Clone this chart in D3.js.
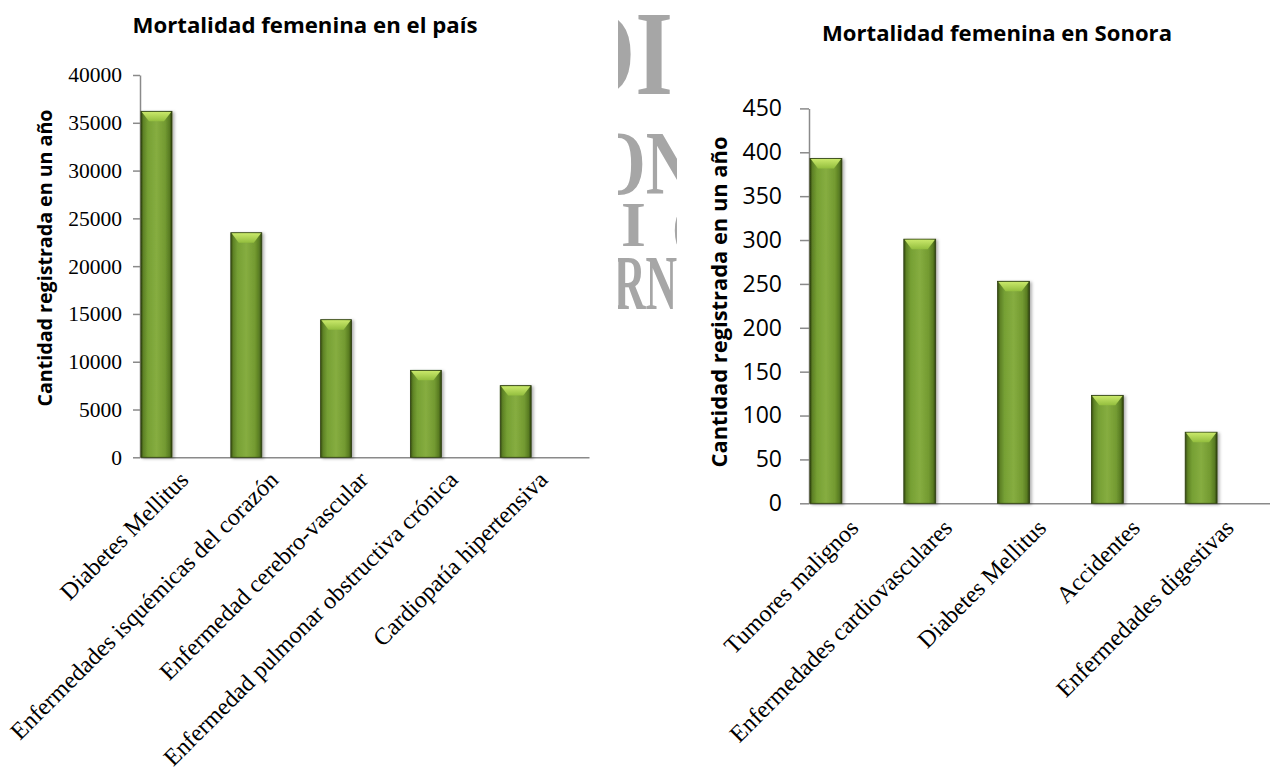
<!DOCTYPE html>
<html>
<head>
<meta charset="utf-8">
<script src="https://cdn.jsdelivr.net/npm/d3@7"></script>
<style>
  html, body { margin: 0; padding: 0; background: #ffffff; }
  svg { display: block; }
</style>
</head>
<body>
<svg id="chart" width="1270" height="771"></svg>
<script>
// ---- Data ----
const paisTitle = "Mortalidad femenina en el país";
const paisCategories = [
  "Diabetes Mellitus",
  "Enfermedades isquémicas del corazón",
  "Enfermedad cerebro-vascular",
  "Enfermedad pulmonar obstructiva crónica",
  "Cardiopatía hipertensiva"
];
const paisValues = [36200, 23500, 14400, 9100, 7500];
const paisTicks = [0, 5000, 10000, 15000, 20000, 25000, 30000, 35000, 40000];

const sonoraTitle = "Mortalidad femenina en Sonora";
const sonoraCategories = [
  "Tumores malignos",
  "Enfermedades cardiovasculares",
  "Diabetes Mellitus",
  "Accidentes",
  "Enfermedades digestivas"
];
const sonoraValues = [393, 301, 253, 123, 81];
const sonoraTicks = [0, 50, 100, 150, 200, 250, 300, 350, 400, 450];

const yAxisTitle = "Cantidad registrada en un año";

// ---- Shared defs: bar shading ----
const svg = d3.select("#chart");
const defs = svg.append("defs");

const body = defs.append("linearGradient").attr("id", "barBody")
  .attr("x1", "0").attr("x2", "1").attr("y1", "0").attr("y2", "0");
[["0%", "#34490f"], ["8%", "#5e8226"], ["22%", "#76a034"], ["50%", "#86ad40"],
 ["78%", "#739a31"], ["92%", "#587b22"], ["100%", "#2c3f0c"]]
  .forEach(([o, c]) => body.append("stop").attr("offset", o).attr("stop-color", c));

const bevel = defs.append("linearGradient").attr("id", "barBevel")
  .attr("x1", "0").attr("x2", "0").attr("y1", "0").attr("y2", "1");
[["0%", "#c9e86a"], ["100%", "#93be3e"]]
  .forEach(([o, c]) => bevel.append("stop").attr("offset", o).attr("stop-color", c));

const shadow = defs.append("filter").attr("id", "barShadow")
  .attr("x", "-20%").attr("y", "-5%").attr("width", "150%").attr("height", "115%");
shadow.append("feDropShadow").attr("dx", 2).attr("dy", 1)
  .attr("stdDeviation", 1.6).attr("flood-color", "#000").attr("flood-opacity", 0.3);

// ---- Faint lettering behind the gap between the two charts ----
defs.append("clipPath").attr("id", "stripClip")
  .append("rect").attr("x", 618).attr("y", 0).attr("width", 59).attr("height", 320);

const strip = svg.append("g").attr("clip-path", "url(#stripClip)")
  .attr("fill", "#a6a6a6")
  .style("font-family", "'Liberation Serif', 'DejaVu Serif', serif")
  .style("font-weight", 700);
[
  { t: "OI", x: 560, y: 94, s: 121, sx: 0.8 },
  { t: "ON", x: 592, y: 194, s: 92, sx: 0.75 },
  { t: "RN", x: 614, y: 309, s: 78, sx: 0.56 }
].forEach(g => {
  strip.append("text")
    .attr("transform", `translate(${g.x},${g.y}) scale(${g.sx},1)`)
    .style("font-size", g.s + "px")
    .text(g.t);
});
const row3 = strip.append("text").attr("y", 246).style("font-size", "64px");
row3.append("tspan").attr("x", 621).text("I");
row3.append("tspan").attr("x", 672).text("(");

// ---- Panel drawing ----
function drawPanel(p) {
  const g = svg.append("g");

  const x = d3.scaleBand().domain(p.categories).range([p.left, p.right])
    .paddingInner(0).paddingOuter(0);
  const y = d3.scaleLinear().domain([0, d3.max(p.ticks)]).range([p.base, p.top]);

  // value axis
  const yAxis = g.append("g").attr("transform", `translate(${p.left},0)`)
    .call(d3.axisLeft(y).tickValues(p.ticks).tickSize(p.tickLen)
      .tickSizeOuter(0).tickPadding(p.tickPad).tickFormat(d3.format("d")));
  yAxis.selectAll("path,line").attr("stroke", "#8a8a8a").attr("stroke-width", 1.5);
  yAxis.selectAll("text")
    .style("font-family", p.tickFont).style("font-size", p.tickSize + "px")
    .attr("fill", "#000");

  // category axis
  const xAxis = g.append("g").attr("transform", `translate(0,${y(0)})`)
    .call(d3.axisBottom(x).tickSize(0).tickSizeOuter(0));
  xAxis.select(".domain").attr("stroke", "#8a8a8a").attr("stroke-width", 1.5);
  xAxis.selectAll("text")
    .attr("x", 0).attr("y", 0).attr("dy", "0")
    .attr("text-anchor", "end")
    .attr("transform", `translate(${p.labDx},${p.labDy}) rotate(-45)`)
    .style("font-family", "'Liberation Serif', 'Times New Roman', serif")
    .style("font-size", p.labSize + "px")
    .attr("fill", "#000");

  // bars: sit at the leading edge of each category slot
  const barW = x.bandwidth() * p.barFrac;
  const bars = g.append("g").selectAll("g.bar")
    .data(p.categories.map((c, i) => ({ c, v: p.values[i] })))
    .join("g").attr("class", "bar");

  bars.append("rect")
    .attr("x", d => x(d.c) + 1)
    .attr("y", d => y(d.v))
    .attr("width", barW)
    .attr("height", d => y(0) - y(d.v))
    .attr("fill", "url(#barBody)")
    .attr("stroke", "#2e3f10").attr("stroke-width", 0.8)
    .attr("filter", "url(#barShadow)");

  const bh = 10, inset = 8;
  bars.append("path")
    .attr("d", d => {
      const x0 = x(d.c) + 1, x1 = x0 + barW, t = y(d.v);
      return `M${x0 + 0.8},${t + 0.6}L${x1 - 0.8},${t + 0.6}L${x1 - inset},${t + bh}L${x0 + inset},${t + bh}Z`;
    })
    .attr("fill", "url(#barBevel)");

  // titles
  g.append("text")
    .attr("x", p.titleX).attr("y", p.titleY)
    .attr("text-anchor", "middle")
    .attr("textLength", p.titleLen).attr("lengthAdjust", "spacingAndGlyphs")
    .style("font-family", "'Open Sans', 'Noto Sans', sans-serif")
    .style("font-weight", 700).style("font-size", p.titleSize + "px")
    .text(p.title);

  g.append("text")
    .attr("transform", `translate(${p.yTitleX},${p.yTitleY}) rotate(-90)`)
    .attr("text-anchor", "middle")
    .attr("textLength", p.yTitleLen).attr("lengthAdjust", "spacingAndGlyphs")
    .style("font-family", "'Open Sans', 'Noto Sans', sans-serif")
    .style("font-weight", 700).style("font-size", p.yTitleSize + "px")
    .text(yAxisTitle);
}

drawPanel({
  title: paisTitle, categories: paisCategories, values: paisValues, ticks: paisTicks,
  left: 140, right: 589, base: 457.3, top: 75,
  tickLen: 7, tickPad: 11, tickFont: "'Liberation Serif', 'Times New Roman', serif", tickSize: 21.5,
  labDx: 5, labDy: 24, labSize: 24, barFrac: 0.345,
  titleX: 305, titleY: 33, titleLen: 345, titleSize: 21,
  yTitleX: 52, yTitleY: 258, yTitleLen: 297, yTitleSize: 19
});

drawPanel({
  title: sonoraTitle, categories: sonoraCategories, values: sonoraValues, ticks: sonoraTicks,
  left: 809, right: 1278, base: 503.3, top: 108.4,
  tickLen: 9, tickPad: 18, tickFont: "'Open Sans', 'Noto Sans', sans-serif", tickSize: 23,
  labDx: 4, labDy: 26, labSize: 24, barFrac: 0.34,
  titleX: 997, titleY: 41, titleLen: 350, titleSize: 21,
  yTitleX: 727, yTitleY: 302, yTitleLen: 331, yTitleSize: 21
});
</script>
</body>
</html>
